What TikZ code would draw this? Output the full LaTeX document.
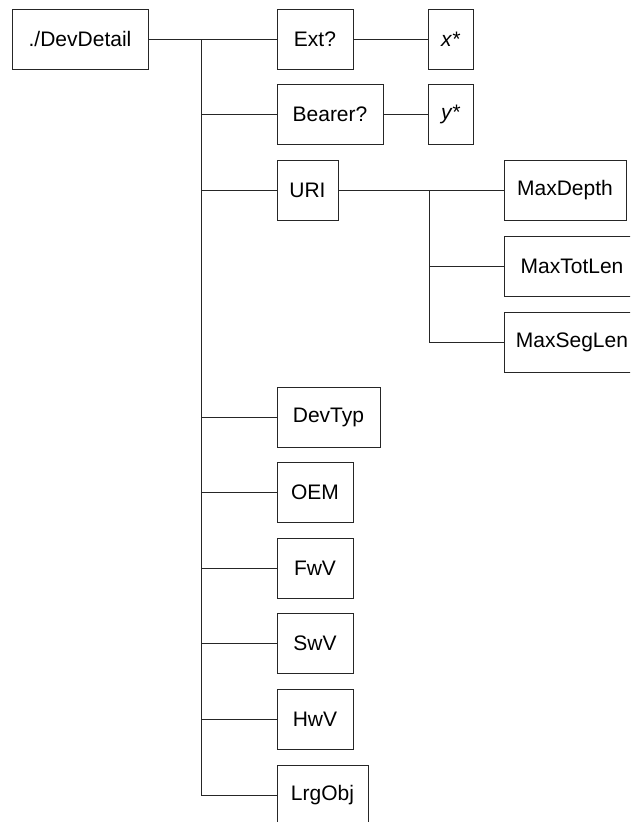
\documentclass[tikz,border=0pt]{standalone}
\usepackage{fontspec}
\setmainfont{Liberation Sans}
\tikzset{
  box/.style={draw=black!85, line width=0.8pt, minimum height=60pt, inner sep=0pt,
    font=\fontsize{21pt}{25pt}\selectfont},
  conn/.style={draw=black!85, line width=0.8pt}
}
\begin{document}
\begin{tikzpicture}[x=1pt,y=-1pt]
\useasboundingbox (0,0) rectangle (630,822);
\clip (0,0) rectangle (630,822);
\fill[white] (0,0) rectangle (630,822);
% nodes
\node[box, minimum width=136pt] (dd)  at (80,39)    {./DevDetail};
\node[box, minimum width=76pt]  (ext) at (315,39)   {Ext?};
\node[box, minimum width=45pt]  (xs)  at (450.5,39) {\itshape x*};
\node[box, minimum width=106pt] (bea) at (330,114)  {Bearer?};
\node[box, minimum width=45pt]  (ys)  at (450.5,114){\itshape y*};
\node[box, minimum width=61pt]  (uri) at (307.5,190){URI};
\node[box, minimum width=122pt] (md)  at (565,190)  {MaxDepth};
\node[box, minimum width=136pt] (mt)  at (572,266)  {MaxTotLen};
\node[box, minimum width=136pt] (ms)  at (572,342)  {MaxSegLen};
\node[box, minimum width=103pt] (dt)  at (328.5,417){DevTyp};
\node[box, minimum width=76pt]  (oem) at (315,492)  {OEM};
\node[box, minimum width=76pt]  (fw)  at (315,568)  {FwV};
\node[box, minimum width=76pt]  (sw)  at (315,643)  {SwV};
\node[box, minimum width=76pt]  (hw)  at (315,719)  {HwV};
\node[box, minimum width=91pt]  (lo)  at (322.5,795){LrgObj};
% connectors
\coordinate (t0) at (201,39);
\coordinate (u0) at (429,190);
\draw[conn] (dd.east) -- (ext.west);
\draw[conn] (ext.east) -- (xs.west);
\draw[conn] (bea.east) -- (ys.west);
\draw[conn] (uri.east) -- (md.west);
\draw[conn] (t0) -- (t0 |- lo.west) -- (lo.west);
\foreach \n in {bea,uri,dt,oem,fw,sw,hw}
  \draw[conn] (t0 |- \n.west) -- (\n.west);
\draw[conn] (u0) -- (u0 |- ms.west) -- (ms.west);
\draw[conn] (u0 |- mt.west) -- (mt.west);
\end{tikzpicture}
\end{document}
